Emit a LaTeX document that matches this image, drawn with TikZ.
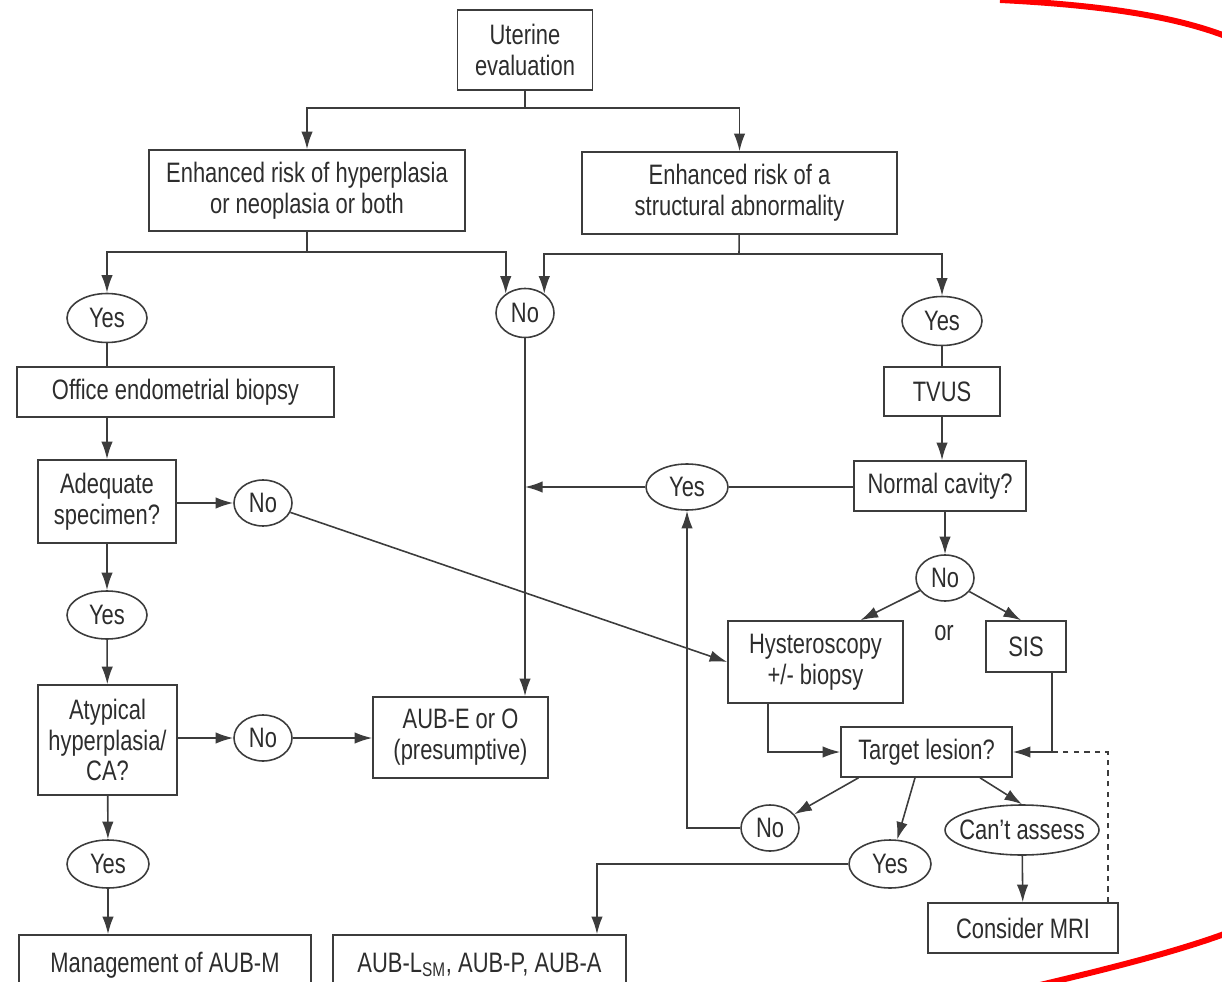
\documentclass[tikz,border=0pt]{standalone}
\usepackage{fontspec}
\setmainfont{Liberation Sans}[FakeStretch=0.78]
\usetikzlibrary{shapes.geometric,arrows.meta,positioning}
\definecolor{linecol}{RGB}{60,60,60}
\definecolor{textcol}{RGB}{45,45,45}

\begin{document}
\begin{tikzpicture}[
    x=0.02cm, y=-0.02cm,
    >={Latex[length=10pt,width=6.5pt]},
    every node/.style={text=textcol, font=\fontsize{16pt}{17.6pt}\selectfont},
    box/.style={rectangle, draw=linecol, line width=0.9pt, align=center, inner sep=1pt},
    oval/.style={ellipse, draw=linecol, line width=0.9pt, inner sep=0pt},
    link/.style={draw=linecol, line width=0.9pt},
    arrow/.style={link, ->},
]
\useasboundingbox (0,0) rectangle (1222,982);

\node[box, minimum width=2.70cm, minimum height=1.60cm] (eval) at (525,50) {Uterine\\evaluation};
\node[box, minimum width=6.32cm, minimum height=1.62cm] (hyper) at (307,190.5) {Enhanced risk of hyperplasia\\or neoplasia or both};
\node[box, minimum width=6.30cm, minimum height=1.64cm] (struct) at (739.5,193) {Enhanced risk of a\\structural abnormality};

\node[oval, minimum width=1.60cm, minimum height=0.98cm] (yes1) at (107,318) {Yes};
\node[oval, minimum width=1.16cm, minimum height=0.98cm] (no1) at (525,313) {No};
\node[oval, minimum width=1.60cm, minimum height=0.98cm] (yes2) at (942,321) {Yes};

\node[box, minimum width=6.34cm, minimum height=1.00cm] (biopsy) at (175.5,392) {Office endometrial biopsy};
\node[box, minimum width=2.32cm, minimum height=0.98cm] (tvus) at (942,391.5) {TVUS};

\node[box, minimum width=2.76cm, minimum height=1.66cm] (adequate) at (107,501.5) {Adequate\\specimen?};
\node[oval, minimum width=1.16cm, minimum height=0.92cm] (no2) at (263,503) {No};
\node[oval, minimum width=1.64cm, minimum height=0.92cm] (yes3) at (687,487) {Yes};
\node[box, minimum width=3.44cm, minimum height=1.00cm] (normal) at (940,486) {Normal cavity?};

\node[oval, minimum width=1.60cm, minimum height=0.96cm] (yes4) at (107,615) {Yes};
\node[oval, minimum width=1.16cm, minimum height=0.92cm] (no3) at (945,578) {No};
\node[box, minimum width=3.50cm, minimum height=1.64cm] (hyst) at (815.5,662) {Hysteroscopy\\+/- biopsy};
\node (or) at (944,633) {or};
\node[box, minimum width=1.60cm, minimum height=1.02cm] (sis) at (1026,646.5) {SIS};

\node[box, minimum width=2.78cm, minimum height=2.20cm] (atyp) at (107.5,740) {Atypical\\hyperplasia/\\CA?};
\node[oval, minimum width=1.16cm, minimum height=0.92cm] (no4) at (263,738) {No};
\node[box, minimum width=3.50cm, minimum height=1.62cm] (aube) at (460.5,737.5) {AUB-E or O\\(presumptive)};
\node[box, minimum width=3.42cm, minimum height=1.00cm] (target) at (926.5,752) {Target lesion?};

\node[oval, minimum width=1.16cm, minimum height=0.92cm] (no5) at (770,828) {No};
\node[oval, inner xsep=-13pt, minimum width=3.08cm, minimum height=1.00cm] (cant) at (1022,830) {Can’t assess};
\node[oval, minimum width=1.64cm, minimum height=0.96cm] (yes5) at (890,864) {Yes};
\node[oval, minimum width=1.64cm, minimum height=0.96cm] (yes6) at (108,864) {Yes};
\node[box, minimum width=3.80cm, minimum height=1.00cm] (mri) at (1023,928) {Consider MRI};

\node[box, minimum width=5.84cm, minimum height=1.20cm] (mgmt) at (165,965) {Management of AUB-M};
\node[box, minimum width=5.86cm, minimum height=1.20cm] (aubl) at (479.5,965) {AUB-L\textsubscript{SM}, AUB-P, AUB-A};

\coordinate (j1) at (525,108);
\coordinate (j2) at (307,252);
\coordinate (j3) at (739,254);
\coordinate (sisb) at ([xshift=0.52cm]sis.south);
\coordinate (sisj) at (sisb |- target);
\coordinate (mrib) at ([xshift=1.70cm]mri.north);

\draw[link] (eval) -- (j1);
\draw[arrow] (j1) -| (hyper);
\draw[arrow] (j1) -| (struct);
\draw[link] (hyper) -- (j2);
\draw[arrow] (j2) -| (yes1);
\draw[arrow] (j2) -| (no1.135);
\draw[link] (struct) -- (j3);
\draw[arrow] (j3) -| (no1.45);
\draw[arrow] (j3) -| (yes2);

\draw[link] (yes1) -- (biopsy.north -| yes1);
\draw[arrow] (biopsy.south -| adequate) -- (adequate);
\draw[arrow] (adequate.east |- no2) -- (no2);
\draw[arrow] (adequate) -- (yes4);
\draw[arrow] (yes4) -- (atyp);
\draw[arrow] (atyp.east |- no4) -- (no4);
\draw[arrow] (no4) -- (aube.west |- no4);
\draw[arrow] (atyp) -- (yes6);
\draw[arrow] (yes6) -- (mgmt.north -| yes6);
\draw[arrow] (no2) -- (hyst.west);
\draw[arrow] (no1) -- (aube.north -| no1);

\draw[link] (yes2) -- (tvus);
\draw[arrow] (tvus) -- (tvus |- normal.north);
\draw[link] (normal.west |- yes3) -- (yes3);
\draw[arrow] (yes3) -- (no1 |- yes3);
\draw[arrow] (normal.south -| no3) -- (no3);
\draw[arrow] (no3) -- ([xshift=0.9cm]hyst.north);
\draw[arrow] (no3) -- ([xshift=-0.1cm]sis.north);
\draw[arrow] ([xshift=-0.95cm]hyst.south) |- (target);
\draw[arrow] (sisb) |- (target);
\draw[link, dashed] (mrib) |- (sisj);

\draw[arrow] ([xshift=-1.36cm]target.south) -- (no5);
\draw[arrow] ([xshift=-0.23cm]target.south) -- (yes5);
\draw[arrow] ([xshift=1.07cm]target.south) -- (cant.north);
\draw[arrow] (no5) -| (yes3);
\draw[arrow] (yes5) -| ([xshift=2.35cm]aubl.north);
\draw[arrow] (cant) -- (mri);

\draw[red, line width=3.4pt] (1000,0) .. controls (1120,6) and (1190,20) .. (1240,42);
\draw[red, line width=3.4pt] (1040,985) .. controls (1120,966) and (1190,948) .. (1240,928);
\end{tikzpicture}
\end{document}
